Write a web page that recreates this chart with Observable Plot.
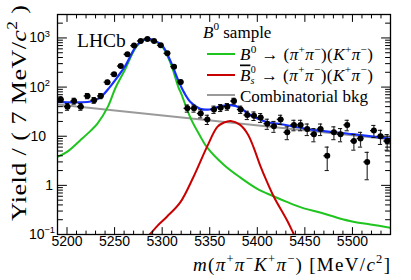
<!DOCTYPE html>
<html><head><meta charset="utf-8">
<script src="https://cdn.jsdelivr.net/npm/d3@7"></script>
<script src="https://cdn.jsdelivr.net/npm/@observablehq/plot@0.6"></script>
<style>html,body{margin:0;padding:0;background:#fff}svg{display:block}</style>
</head><body><div id="chart"></div>
<script>
// ---- data ----
const massBins = [5193.5,5200.5,5207.5,5214.5,5221.5,5228.5,5235.5,5242.5,5249.5,5256.5,
  5263.5,5270.5,5277.5,5284.5,5291.5,5298.5,5305.5,5312.5,5319.5,5326.5,
  5333.5,5340.5,5347.5,5354.5,5361.5,5368.5,5375.5,5382.5,5389.5,5396.5,
  5403.5,5410.5,5417.5,5424.5,5431.5,5438.5,5445.5,5452.5,5459.5,5466.5,
  5473.5,5480.5,5487.5,5494.5,5501.5,5508.5,5515.5,5522.5,5529.5,5536.5];
const yields = [56,40,52,40,66,54,66,126,182,268,
  465,698,869,955,869,710,487,260,127,37,
  37,29,22,35,38,40,52,35,27,26,
  24,18,16,22,12,17,17,14,11,14,
  4,12,11,17,8,9,3,13,10,8];
const yieldErrors = [7.5,6.3,7.2,6.3,8.1,7.3,8.1,11.2,13.5,16.4,
  21.6,26.4,29.5,30.9,29.5,26.6,22.1,16.1,11.3,6.1,
  6.1,5.4,4.7,5.9,6.2,6.3,7.2,5.9,5.2,5.1,
  4.9,4.2,4.0,4.7,3.5,4.1,4.1,3.7,3.3,3.7,
  2.0,3.5,3.3,4.1,2.8,3.0,1.7,3.6,3.2,2.8];
const binWidth = 7;

const greenX = [5190,5200,5214,5225,5232,5243,5251,5261,5272,5279,5284,5290,5300,5309,5317,5320,5330,5340,5347,5365,5382,5400,5417,5431,5449,5466,5484,5502,5519,5540];
const greenY = [3.8,4.8,8.3,13,18,40,97,228,630,860,935,895,670,300,100,74,23,10,6.0,2.6,1.45,0.85,0.6,0.46,0.34,0.28,0.22,0.18,0.16,0.137];

const redX = [5278,5287,5295,5305,5319,5333,5347,5358,5365,5372,5382,5390,5396,5403.5,5410,5417.5,5431.5,5438.5,5446];
const redY = [0.065,0.1,0.15,0.23,0.45,1.5,6.0,15.5,19,20.5,17,11,6,2.4,1.2,0.58,0.19,0.1,0.05];

const greyX = [5190,5540];
const greyY = [44,8.7];

const blueX = [5190,5200,5214,5225,5235,5245,5253,5261,5272,5279,5284,5290,5300,5309,5317,5323,5330,5340,5350,5360,5372,5382,5390,5400,5412,5425,5440,5460,5480,5500,5520,5540];
const blueY = [50,49,49,51,62,100,160,265,650,890,960,920,700,330,135,78,49,36,35,40,43,38,29,23,19,17.5,15.5,13.3,12.2,11,9.9,8.9];

const xTickValues = [5200,5250,5300,5350,5400,5450,5500];
const yTickValues = [0.1,1,10,100,1000];
const yTickLabels = [["10","\u22121"],["1",""],["10",""],["10","2"],["10","3"]];
const yTickLabelRight = [55,53,46,50,50];

// ---- derived tables ----
const points = massBins.map((m,i) => ({m, v: yields[i], e: yieldErrors[i]}));
const toPts = (xs, ys) => xs.map((x,i) => ({x, y: ys[i]}));
const xMinor = d3.range(5200, 5540, 10).filter(v => v % 50 !== 0);
const yMinor = [];
for (const d of [0.1,1,10,100,1000]) for (let k=2;k<=9;k++) { const v = +(k*d).toPrecision(3); if (v < 3000) yMinor.push(v); }

const serif = "'Liberation Serif','Times New Roman',serif";
const sans = "'Liberation Sans Narrow','Liberation Sans',Arial,sans-serif";
const tick = {draw(ctx, l){ ctx.moveTo(0,0); ctx.lineTo(0,-l); }};
const tickMarks = (vals, axis, len) => {
  const base = {stroke:"black", strokeWidth:1, length: len, anchor:"start", shape: tick};
  if (axis === "x") return [
    Plot.vector(vals, {...base, x: d=>d, frameAnchor:"bottom", rotate:0}),
    Plot.vector(vals, {...base, x: d=>d, frameAnchor:"top", rotate:180})
  ];
  return [
    Plot.vector(vals, {...base, y: d=>d, frameAnchor:"left", rotate:90}),
    Plot.vector(vals, {...base, y: d=>d, frameAnchor:"right", rotate:-90})
  ];
};

const chart = Plot.plot({
  width: 411, height: 280,
  marginLeft: 57, marginRight: 21, marginTop: 14, marginBottom: 46,
  style: {background: "white", overflow: "visible"},
  x: {domain: [5190, 5540], axis: null},
  y: {type: "log", domain: [0.1, 3000], axis: null},
  marks: [
    Plot.line(toPts(greyX, greyY), {x:"x", y:"y", stroke:"#9a9a9a", strokeWidth:2, clip:true}),
    Plot.line(toPts(greenX, greenY), {x:"x", y:"y", stroke:"#1fc41f", strokeWidth:2, curve:"catmull-rom", clip:true}),
    Plot.line(toPts(redX, redY), {x:"x", y:"y", stroke:"#c80000", strokeWidth:2, curve:"catmull-rom", clip:true}),
    Plot.line(toPts(blueX, blueY), {x:"x", y:"y", stroke:"#1530ff", strokeWidth:2.2, curve:"catmull-rom", clip:true}),
    Plot.ruleX(points, {x:"m", y1: d=>d.v-d.e, y2: d=>d.v+d.e, stroke:"#333", strokeWidth:1.2}),
    Plot.ruleY(points, {y:"v", x1: d=>d.m-binWidth/2, x2: d=>d.m+binWidth/2, stroke:"#111", strokeWidth:1.3}),
    Plot.ruleY(points, {y: d=>d.v+d.e, x1: d=>d.m-2.2, x2: d=>d.m+2.2, stroke:"#111", strokeWidth:1}),
    Plot.ruleY(points, {y: d=>d.v-d.e, x1: d=>d.m-2.2, x2: d=>d.m+2.2, stroke:"#111", strokeWidth:1}),
    Plot.dot(points, {x:"m", y:"v", r:3, fill:"black"}),
    ...tickMarks(xTickValues, "x", 7),
    ...tickMarks(xMinor, "x", 3.5),
    ...tickMarks(yTickValues.slice(1), "y", 9),
    ...tickMarks(yMinor, "y", 5),
    Plot.frame({stroke:"black", strokeWidth:1.3}),
    Plot.text(xTickValues, {x: d=>d, frameAnchor:"bottom", lineAnchor:"top", dy: 2, text: d=>String(d), fontSize: 14, fontFamily: sans, fill:"black"})
  ]
});
document.getElementById("chart").appendChild(chart);

// ---- rich text overlays ----
const svg = d3.select(chart);
const Y = chart.scale("y");
function rich(x, y, size, parts, opts = {}) {
  const t = svg.append("text").attr("x", x).attr("y", y)
    .attr("font-family", opts.font || serif).attr("font-size", size).attr("fill", "black")
    .attr("font-weight", "normal").attr("text-anchor", opts.anchor || "start");
  if (opts.transform) t.attr("transform", opts.transform);
  let cur = 0;
  for (const p of parts) {
    const s = p.sup ? -0.42*size : p.sub ? 0.15*size : 0;
    const ts = t.append("tspan").text(p.t).attr("dy", s - cur);
    cur = s;
    if (p.sup || p.sub) ts.attr("font-size", size*0.66);
    if (p.i) ts.attr("font-style", "italic");
    if (p.dx) ts.attr("dx", p.dx);
    if (p.over) ts.attr("text-decoration", "overline");
  }
  if (opts.len) t.attr("textLength", opts.len).attr("lengthAdjust", "spacing");
  return t;
}

yTickValues.forEach((v, i) => {
  const [base, sup] = yTickLabels[i];
  const parts = [{t: base}];
  if (sup) parts.push({t: sup, sup: true});
  rich(yTickLabelRight[i], Y.apply(v) + 5, 14, parts, {anchor: "end", font: sans});
});

// LHCb
rich(77, 46.5, 19.5, [{t: "LHCb"}]);

// axis titles
rich(0, 0, 26, [{t: "Yield / ( 7 MeV/"}, {t: "c", i: true}, {t: "2", sup: true}, {t: " )"}],
  {anchor: "end", transform: "translate(26,5) scale(0.8,1) rotate(-90)", len: 216});
rich(390, 271, 19, [{t: "m", i: true}, {t: "("}, {t: "\u03c0", i: true}, {t: "+", sup: true}, {t: "\u03c0", i: true}, {t: "\u2212", sup: true},
  {t: "K", i: true}, {t: "+", sup: true}, {t: "\u03c0", i: true}, {t: "\u2212", sup: true}, {t: ") [MeV/"}, {t: "c", i: true}, {t: "2", sup: true}, {t: "]"}],
  {anchor: "end", len: 197});

// legend
const L = 17, LX = 240;
rich(203, 37.5, L, [{t: "B", i: true}, {t: "0", sup: true}, {t: " sample"}]);
const decay = [{t: " \u2192 ("}, {t: "\u03c0", i: true}, {t: "+", sup: true}, {t: "\u03c0", i: true}, {t: "\u2212", sup: true}, {t: ")("},
  {t: "K", i: true}, {t: "+", sup: true}, {t: "\u03c0", i: true}, {t: "\u2212", sup: true}, {t: ")"}];
const legendLines = [{y: 54, color: "#1fc41f"}, {y: 75, color: "#c80000"}, {y: 95, color: "#9a9a9a"}];
legendLines.forEach(r => {
  svg.append("line").attr("x1", 207).attr("x2", 235).attr("y1", r.y).attr("y2", r.y)
    .attr("stroke", r.color).attr("stroke-width", 2);
});
// row 1
rich(LX, 60, L, [{t: "B", i: true}, {t: "0", sup: true}, ...decay], {len: 133});
// row 2: B-bar_s^0 built from pieces
const bT = rich(LX, 80.5, L, [{t: "B", i: true, over: true}]);
const wB = bT.node().getComputedTextLength();
const sT = rich(LX + wB, 84.4, 10, [{t: "s", i: true}]);
const zT = rich(LX + wB + 0.3, 73.2, 10, [{t: "0"}]);
const wS = Math.max(sT.node().getComputedTextLength(), zT.node().getComputedTextLength() + 0.3);
rich(LX + wB + wS + 0.5, 80.5, L, decay, {len: 133 - wB - wS - 0.5});
// row 3
rich(LX, 102, L, [{t: "Combinatorial bkg"}]);
</script></body></html>
